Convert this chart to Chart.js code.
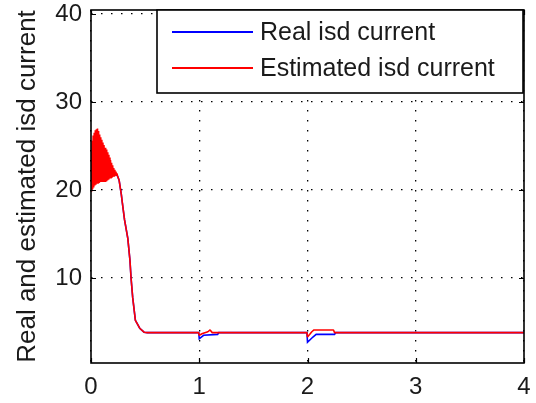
<!DOCTYPE html>
<html lang="en">
<head>
<meta charset="UTF-8">
<title>Real and estimated isd current</title>
<script src="https://cdn.jsdelivr.net/npm/chart.js"></script>
<style>
  body { margin: 0; background: #fff; }
  canvas { display: block; }
</style>
</head>
<body>
<canvas id="grafico" width="536" height="403"></canvas>
<script>
// valores
var seriesNames = ['Real isd current', 'Estimated isd current'];
var xTicks = [0, 1, 2, 3, 4];
var yTicks = [10, 20, 30, 40];

var realT = [0, 0.05, 0.1, 0.15, 0.2, 0.245, 0.26, 0.28, 0.29, 0.31, 0.34, 0.36, 0.37, 0.385, 0.41, 0.45, 0.49, 0.52,
             0.995, 1.0, 1.04, 1.17, 1.18, 1.995, 2.0, 2.05, 2.08, 2.25, 2.26, 4];
var realV = [24.3, 24, 23.2, 22.6, 22, 21.6, 21.1, 19.5, 18.5, 16.6, 14.5, 12, 10, 7.8, 5.2, 4.3, 3.85, 3.8,
             3.8, 3.1, 3.5, 3.6, 3.8, 3.8, 2.7, 3.3, 3.6, 3.6, 3.8, 3.8];

var estT = [0, 0.005, 0.01, 0.015, 0.02, 0.025, 0.03, 0.035, 0.04, 0.045, 0.05, 0.055, 0.06, 0.065, 0.07, 0.075,
            0.08, 0.085, 0.09, 0.095, 0.1, 0.105, 0.11, 0.115, 0.12, 0.125, 0.13, 0.135, 0.14, 0.145, 0.15, 0.155,
            0.16, 0.165, 0.17, 0.175, 0.18, 0.185, 0.19, 0.195, 0.2, 0.205, 0.21, 0.215, 0.22, 0.225, 0.23, 0.235,
            0.24, 0.245,
            0.26, 0.28, 0.29, 0.31, 0.34, 0.36, 0.37, 0.385, 0.41, 0.45, 0.49, 0.52,
            0.995, 1.0, 1.03, 1.08, 1.1, 1.12, 1.995, 2.0, 2.04, 2.06, 2.24, 2.25, 4];
var estV = [24.3, 19.8, 25.6, 20.1, 26.2, 20.3, 26.5, 20.5, 26.8, 20.6, 26.9, 20.7, 27.0, 20.8, 26.7, 20.9,
            26.3, 21.0, 26.0, 21.0, 25.7, 21.0, 25.4, 21.0, 25.1, 20.9, 24.8, 20.9, 24.6, 21.0, 24.3, 21.1,
            24.0, 21.2, 23.7, 21.3, 23.4, 21.4, 23.1, 21.5, 22.8, 21.6, 22.5, 21.6, 22.3, 21.7, 22.1, 21.7,
            21.9, 21.6,
            21.1, 19.5, 18.5, 16.6, 14.5, 12, 10, 7.8, 5.2, 4.3, 3.85, 3.8,
            3.8, 3.5, 3.7, 3.9, 4.1, 3.8, 3.8, 3.3, 3.9, 4.1, 4.1, 3.8, 3.8];

function pontos(ts, vs) {
    return ts.map(function (t, i) { return { x: t, y: vs[i] }; });
}

var fonte = 'Liberation Sans, Arial, Helvetica, sans-serif';

// moldura, ticks para dentro e legenda no estilo MATLAB
var estiloMatlab = {
    id: 'estiloMatlab',
    afterDraw: function (chart) {
        var ctx = chart.ctx;
        var a = chart.chartArea;
        var sx = chart.scales.x, sy = chart.scales.y;
        ctx.save();
        ctx.strokeStyle = '#000';
        ctx.lineWidth = 1.2;
        ctx.beginPath();
        xTicks.forEach(function (v) {
            var px = Math.round(sx.getPixelForValue(v)) + 0.5;
            ctx.moveTo(px, a.bottom); ctx.lineTo(px, a.bottom - 5);
            ctx.moveTo(px, a.top); ctx.lineTo(px, a.top + 5);
        });
        yTicks.forEach(function (v) {
            var py = Math.round(sy.getPixelForValue(v)) + 0.5;
            ctx.moveTo(a.left, py); ctx.lineTo(a.left + 5, py);
            ctx.moveTo(a.right, py); ctx.lineTo(a.right - 5, py);
        });
        ctx.stroke();
        ctx.lineWidth = 1.6;
        ctx.strokeRect(a.left, a.top, a.right - a.left, a.bottom - a.top);

        // legenda
        var lx = 157, ly = 10, lw = 366, lh = 83;
        ctx.fillStyle = '#fff';
        ctx.fillRect(lx, ly, lw, lh);
        ctx.lineWidth = 1.6;
        ctx.strokeRect(lx, ly, lw, lh);
        var ds = chart.data.datasets;
        var linhas = [33, 69];
        seriesNames.forEach(function (nome, i) {
            var d = ds.filter(function (s) { return s.label === nome; })[0];
            ctx.strokeStyle = d.borderColor;
            ctx.lineWidth = 1.8;
            ctx.beginPath();
            ctx.moveTo(172, linhas[i] - 1);
            ctx.lineTo(253, linhas[i] - 1);
            ctx.stroke();
            ctx.fillStyle = '#1a1a1a';
            ctx.font = '25px ' + fonte;
            ctx.textBaseline = 'middle';
            ctx.textAlign = 'left';
            ctx.fillText(nome, 260, linhas[i]);
        });
        ctx.restore();
    }
};

var ctx = document.getElementById('grafico').getContext('2d');
var grafico = new Chart(ctx, {
    type: 'line',
    data: {
        datasets: [{
            label: seriesNames[0],
            data: pontos(realT, realV),
            borderColor: '#0000ff',
            borderWidth: 1.6,
            pointRadius: 0,
            tension: 0,
            fill: false,
            order: 1
        }, {
            label: seriesNames[1],
            data: pontos(estT, estV),
            borderColor: '#ff0000',
            borderWidth: 1.6,
            borderJoinStyle: 'bevel',
            pointRadius: 0,
            tension: 0,
            fill: false,
            order: 0
        }]
    },
    options: {
        responsive: false,
        animation: false,
        devicePixelRatio: 1,
        layout: { padding: { left: 0, top: 10, right: 12, bottom: 0 } },
        plugins: {
            legend: { display: false },
            tooltip: { enabled: false }
        },
        scales: {
            x: {
                type: 'linear',
                min: 0,
                max: 4,
                afterBuildTicks: function (s) { s.ticks = xTicks.map(function (v) { return { value: v }; }); },
                afterFit: function (s) { s.height = 40; s.paddingLeft = 0; s.paddingRight = 0; },
                grid: { color: '#000', lineWidth: 1.3, drawTicks: false },
                border: { display: false, dash: [1.5, 8.5] },
                ticks: { color: '#1a1a1a', padding: 10, maxRotation: 0, font: { family: fonte, size: 24 } }
            },
            y: {
                type: 'linear',
                min: 0.35,
                max: 40.45,
                afterBuildTicks: function (s) { s.ticks = yTicks.map(function (v) { return { value: v }; }); },
                afterFit: function (s) { s.width = 91; s.paddingTop = 0; s.paddingBottom = 0; },
                grid: { color: '#000', lineWidth: 1.3, drawTicks: false },
                border: { display: false, dash: [1.5, 8.5] },
                ticks: { color: '#1a1a1a', padding: 9, font: { family: fonte, size: 24 } },
                title: {
                    display: true,
                    text: 'Real and estimated isd current',
                    color: '#1a1a1a',
                    padding: { top: 12, bottom: 0 },
                    font: { family: fonte, size: 26 }
                }
            }
        }
    },
    plugins: [estiloMatlab]
});
</script>
</body>
</html>
